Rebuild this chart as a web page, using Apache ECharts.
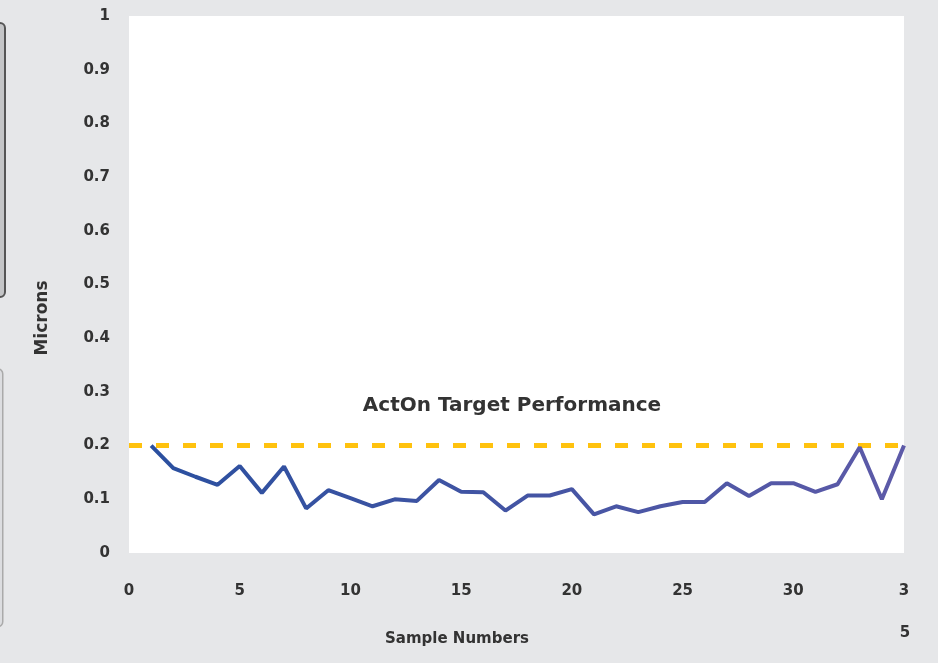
<!DOCTYPE html>
<html>
<head>
<meta charset="utf-8">
<script src="https://cdn.jsdelivr.net/npm/echarts@6/dist/echarts.min.js"></script>
<style>
  html, body { margin: 0; padding: 0; background: #e6e7e9; }
  #main { width: 938px; height: 663px; }
</style>
</head>
<body>
<div id="main"></div>
<script>
// sample numbers 1..35 and measured microns
var samples = [1, 2, 3, 4, 5, 6, 7, 8, 9, 10, 11, 12, 13, 14, 15, 16, 17, 18,
  19, 20, 21, 22, 23, 24, 25, 26, 27, 28, 29, 30, 31, 32, 33, 34, 35];
var microns = [0.2, 0.158, 0.142, 0.127, 0.162, 0.112, 0.161, 0.083, 0.117, 0.102,
  0.087, 0.1, 0.097, 0.136, 0.114, 0.113, 0.079, 0.107, 0.107, 0.119,
  0.072, 0.087, 0.076, 0.087, 0.095, 0.095, 0.13, 0.106, 0.13, 0.13,
  0.114, 0.128, 0.197, 0.1, 0.2];
var target = 0.2;
var targetLabel = 'ActOn Target Performance';

var FONT = 'DejaVu Sans';
var chart = echarts.init(document.getElementById('main'));

var option = {
  backgroundColor: '#e6e7e9',
  animation: false,
  grid: { left: 129, right: 34, top: 16, bottom: 110, backgroundColor: '#fff', show: true, borderWidth: 0 },
  xAxis: {
    type: 'value',
    min: 0,
    max: 35,
    interval: 5,
    axisLine: { show: false },
    axisTick: { show: false },
    splitLine: { show: false },
    axisLabel: {
      margin: 31,
      color: '#333',
      fontSize: 15,
      fontWeight: 'bold',
      fontFamily: FONT,
      formatter: function (v) { return v === 35 ? '3' : String(v); }
    }
  },
  yAxis: {
    type: 'value',
    min: 0,
    max: 1,
    interval: 0.1,
    axisLine: { show: false },
    axisTick: { show: false },
    splitLine: { show: false },
    axisLabel: {
      margin: 19,
      color: '#333',
      fontSize: 15,
      fontWeight: 'bold',
      fontFamily: FONT
    }
  },
  graphic: [
    { type: 'rect', left: -8, top: 22, shape: { width: 12, height: 274, r: 5 },
      style: { fill: '#c4c5c7', stroke: '#555', lineWidth: 2 }, z: 0 },
    { type: 'rect', left: -8, top: 368, shape: { width: 10, height: 258, r: 5 },
      style: { fill: '#dcdde0', stroke: '#aaa', lineWidth: 1.5 }, z: 0 },
    { type: 'text', x: 512, y: 406,
      style: { text: targetLabel, fill: '#333', font: 'bold 20px ' + FONT, textAlign: 'center', textVerticalAlign: 'middle' } },
    { type: 'text', x: 43, y: 318, rotation: Math.PI / 2,
      style: { text: 'Microns', fill: '#333', font: 'bold 17px ' + FONT, textAlign: 'center', textVerticalAlign: 'middle' } },
    { type: 'text', x: 457, y: 639,
      style: { text: 'Sample Numbers', fill: '#333', font: 'bold 15px ' + FONT, textAlign: 'center', textVerticalAlign: 'middle' } },
    { type: 'text', x: 905, y: 633,
      style: { text: '5', fill: '#333', font: 'bold 15px ' + FONT, textAlign: 'center', textVerticalAlign: 'middle' } }
  ],
  series: [
    {
      type: 'line',
      data: samples.map(function (s, i) { return [s, microns[i]]; }),
      symbol: 'none',
      lineStyle: {
        width: 4,
        color: new echarts.graphic.LinearGradient(0, 0, 1, 0, [
          { offset: 0, color: '#2a4f9f' },
          { offset: 1, color: '#5d5aa8' }
        ])
      },
      z: 3,
      markLine: {
        silent: true,
        symbol: 'none',
        label: { show: false },
        lineStyle: { color: '#ffc20e', width: 5, type: [13, 14] },
        data: [{ yAxis: target }],
        z: 2
      }
    }
  ]
};

chart.setOption(option);
window.addEventListener('resize', function () { chart.resize(); });
</script>
</body>
</html>
